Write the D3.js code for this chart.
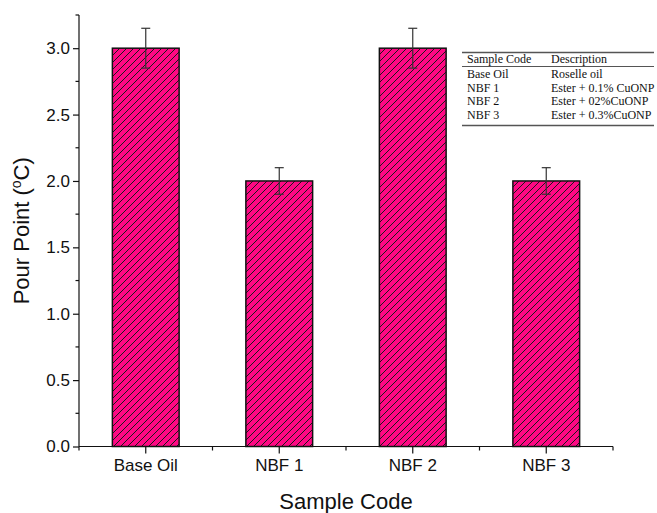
<!DOCTYPE html>
<html><head><meta charset="utf-8">
<script src="https://cdn.jsdelivr.net/npm/d3@7"></script>
<style>body{margin:0;background:#fff}svg{display:block}</style>
</head><body>
<script>
const categories = ["Base Oil", "NBF 1", "NBF 2", "NBF 3"];
const pourPoint = [3.0, 2.0, 3.0, 2.0];
const errors = [0.15, 0.1, 0.15, 0.1];
const yTicks = [0, 0.5, 1.0, 1.5, 2.0, 2.5, 3.0];
const tableHeader = ["Sample Code", "Description"];
const tableCodes = ["Base Oil", "NBF 1", "NBF 2", "NBF 3"];
const tableDesc = ["Roselle oil", "Ester + 0.1% CuONP", "Ester + 02%CuONP", "Ester + 0.3%CuONP"];

const W = 657, H = 513;
const m = {left: 79, right: 44, top: 15, bottom: 66};
const svg = d3.select("body").append("svg").attr("width", W).attr("height", H);

const defs = svg.append("defs");
const pat = defs.append("pattern").attr("id", "hatch").attr("patternUnits", "userSpaceOnUse")
  .attr("width", 7).attr("height", 7);
pat.append("rect").attr("width", 7).attr("height", 7).attr("fill", "#FF0884");
pat.append("path").attr("d", "M-1,8 L8,-1 M-2,2 L2,-2 M5,9 L9,5")
  .attr("stroke", "#1a1a1a").attr("stroke-width", 1);

const x = d3.scaleBand().domain(categories).range([m.left, W - m.right]).paddingInner(0.5).paddingOuter(0.25);
const y = d3.scaleLinear().domain([0, 3.25]).range([H - m.bottom - 0.5, m.top]);

const g = svg.append("g");
g.selectAll("rect.bar").data(categories).join("rect")
  .attr("x", d => x(d)).attr("width", x.bandwidth())
  .attr("y", (d, i) => y(pourPoint[i])).attr("height", (d, i) => y(0) - y(pourPoint[i]))
  .attr("fill", "url(#hatch)").attr("stroke", "#111").attr("stroke-width", 1.5);

const eb = g.selectAll("g.eb").data(categories).join("g");
eb.append("line").attr("x1", d => x(d) + x.bandwidth() / 2).attr("x2", d => x(d) + x.bandwidth() / 2)
  .attr("y1", (d, i) => y(pourPoint[i] + errors[i])).attr("y2", (d, i) => y(pourPoint[i] - errors[i]))
  .attr("stroke", "#333").attr("stroke-width", 1.2);
[1, -1].forEach(s => {
  eb.append("line").attr("x1", d => x(d) + x.bandwidth() / 2 - 4.5).attr("x2", d => x(d) + x.bandwidth() / 2 + 4.5)
    .attr("y1", (d, i) => y(pourPoint[i] + s * errors[i])).attr("y2", (d, i) => y(pourPoint[i] + s * errors[i]))
    .attr("stroke", "#333").attr("stroke-width", 1.2);
});

const sans = "Liberation Sans, Arial, sans-serif";
const yAxis = d3.axisLeft(y).tickValues(yTicks).tickFormat(d3.format(".1f")).tickSize(6).tickPadding(3);
const ya = svg.append("g").attr("transform", `translate(${m.left},0)`).call(yAxis);
ya.select(".domain").attr("d", `M0,${y(3.25)}V${y(0)}`).attr("stroke", "#111").attr("stroke-width", 1.2);
ya.selectAll(".tick line").attr("stroke", "#111").attr("stroke-width", 1.2);
ya.selectAll("text").attr("font-family", sans).attr("font-size", 17).attr("fill", "#111");
const minor = [0.25, 0.75, 1.25, 1.75, 2.25, 2.75, 3.25];
ya.selectAll("line.minor").data(minor).join("line").attr("class", "minor")
  .attr("x1", -3.5).attr("x2", 0).attr("y1", d => y(d)).attr("y2", d => y(d))
  .attr("stroke", "#111").attr("stroke-width", 1.2);

const xAxis = d3.axisBottom(x).tickSize(7).tickPadding(5);
const xa = svg.append("g").attr("transform", `translate(0,${y(0)})`).call(xAxis);
xa.select(".domain").attr("d", `M${m.left},0H${W - m.right}`).attr("stroke", "#111").attr("stroke-width", 1.2);
xa.selectAll(".tick line").attr("stroke", "#111").attr("stroke-width", 1.2);
xa.selectAll("text").attr("font-family", sans).attr("font-size", 17).attr("fill", "#111");
const bounds = categories.map(c => x(c) - x.step() * x.paddingInner() / 2).concat([W - m.right]);
xa.selectAll("line.bnd").data(bounds).join("line").attr("class", "bnd")
  .attr("x1", d => d).attr("x2", d => d).attr("y1", 0).attr("y2", 4)
  .attr("stroke", "#111").attr("stroke-width", 1.2);

svg.append("text").attr("x", (m.left + W - m.right) / 2).attr("y", 509).attr("text-anchor", "middle")
  .attr("font-family", sans).attr("font-size", 22).attr("fill", "#111").text("Sample Code");
const yt = svg.append("text").attr("transform", `translate(29,${(y(0) + y(3.25)) / 2}) rotate(-90)`)
  .attr("text-anchor", "middle").attr("font-family", sans).attr("font-size", 22).attr("fill", "#111");
yt.append("tspan").text("Pour Point (");
yt.append("tspan").attr("font-size", 14).attr("dy", -8).text("o");
yt.append("tspan").attr("dy", 8).text("C)");

const tx0 = 462, tx1 = 654, c1 = 467, c2 = 551;
const tf = "Liberation Serif, Times New Roman, serif";
const tfs = 12;
const tb = svg.append("g");
tb.append("line").attr("x1", tx0).attr("x2", tx1).attr("y1", 52.5).attr("y2", 52.5).attr("stroke", "#555").attr("stroke-width", 1.3);
tb.append("line").attr("x1", tx0).attr("x2", tx1).attr("y1", 66.5).attr("y2", 66.5).attr("stroke", "#555").attr("stroke-width", 1);
tb.append("line").attr("x1", tx0).attr("x2", tx1).attr("y1", 125.5).attr("y2", 125.5).attr("stroke", "#555").attr("stroke-width", 1.3);
tb.append("text").attr("x", c1).attr("y", 63).attr("font-family", tf).attr("font-size", tfs).attr("fill", "#111").text(tableHeader[0]);
tb.append("text").attr("x", c2).attr("y", 63).attr("font-family", tf).attr("font-size", tfs).attr("fill", "#111").text(tableHeader[1]);
tableCodes.forEach((c, i) => {
  tb.append("text").attr("x", c1).attr("y", 78 + i * 13.5).attr("font-family", tf).attr("font-size", tfs).attr("fill", "#111").text(c);
  tb.append("text").attr("x", c2).attr("y", 78 + i * 13.5).attr("font-family", tf).attr("font-size", tfs).attr("fill", "#111").text(tableDesc[i]);
});
</script>
</body></html>
